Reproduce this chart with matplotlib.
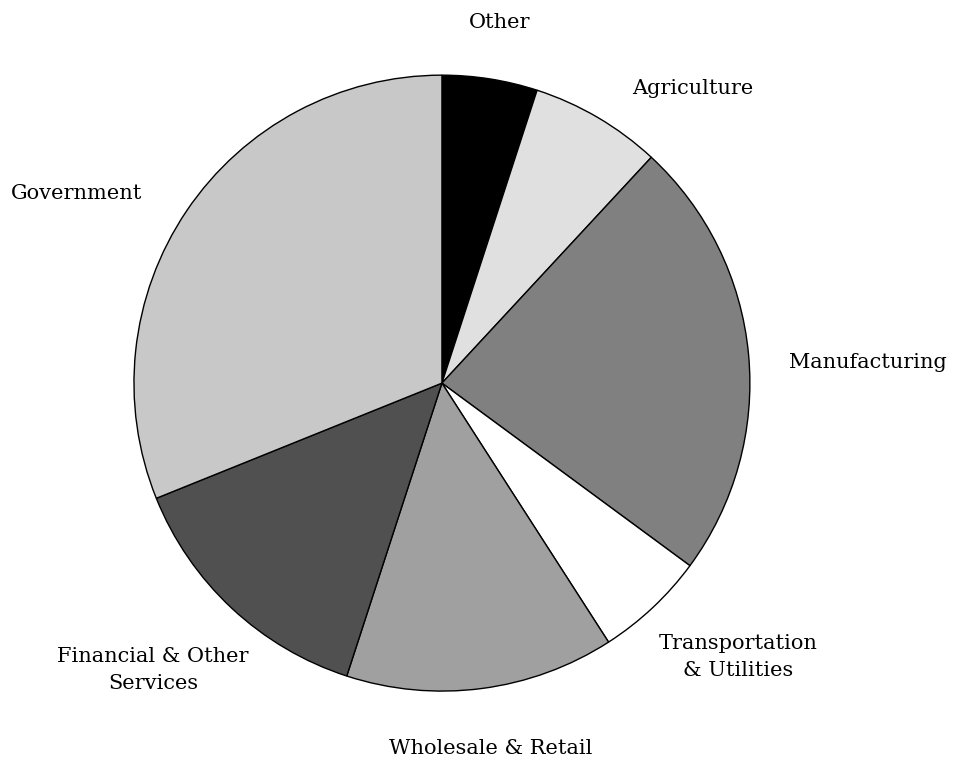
import matplotlib
matplotlib.use("Agg")
import matplotlib.pyplot as plt

# sector shares, clockwise from 12 o'clock
sectors = ["Other", "Agriculture", "Manufacturing", "Transportation\n& Utilities",
           "Wholesale & Retail", "Financial & Other\nServices", "Government"]
shares = [5.0, 6.9, 23.2, 5.8, 14.1, 13.9, 31.1]
colors = ["#000000", "#e0e0e0", "#808080", "#ffffff", "#a0a0a0", "#505050", "#c8c8c8"]

# label anchor points (pie radius = 1)
label_xy = [(0.188, 1.172), (0.815, 0.958), (1.383, 0.068), (0.961, -0.890),
            (0.159, -1.185), (-0.938, -0.932), (-1.185, 0.617)]

fig = plt.figure(figsize=(9.59, 7.61), dpi=100)
ax = fig.add_axes([0, 0, 1, 1])
ax.pie(shares, colors=colors, startangle=90, counterclock=False,
       wedgeprops=dict(edgecolor="black", linewidth=1.0))
for name, (x, y) in zip(sectors, label_xy):
    ax.text(x, y, name, ha="center", va="center", fontsize=15,
            family="DejaVu Serif", linespacing=1.5)
ax.set_xlim(-1.435, 1.679)
ax.set_ylim(-1.227, 1.244)
ax.set_aspect("equal")
ax.axis("off")
fig.savefig("out.png", dpi=100)
